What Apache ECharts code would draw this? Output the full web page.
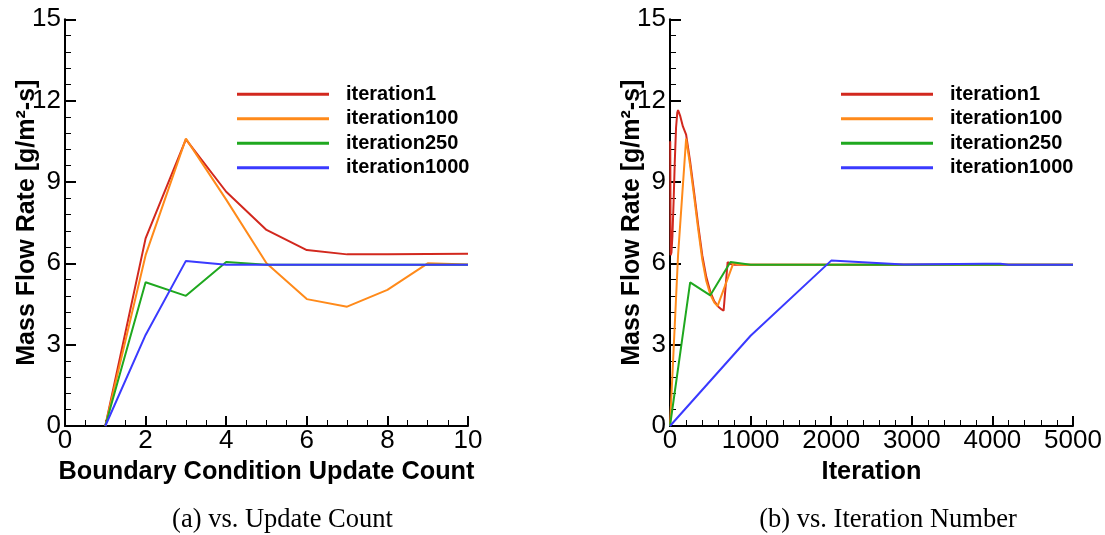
<!DOCTYPE html>
<html>
<head>
<meta charset="utf-8">
<script src="https://cdn.jsdelivr.net/npm/echarts@6/dist/echarts.min.js"></script>
<style>
html,body{margin:0;padding:0;background:#fff;}
#chart{width:1105px;height:535px;}
</style>
</head>
<body>
<div id="chart"></div>
<script>
// ---------- data ----------
const seriesNames = ['iteration1', 'iteration100', 'iteration250', 'iteration1000'];
const seriesColors = ['#d2281e', '#ff8a1a', '#1fa81f', '#3a3aff'];

// (a) vs. Update Count
const updateCount = [1, 2, 3, 4, 5, 6, 7, 8, 9, 10];
const countIter1    = [0, 6.92, 10.57, 8.64, 7.23, 6.49, 6.33, 6.33, 6.34, 6.35];
const countIter100  = [0, 6.3, 10.6, 8.35, 6.0, 4.68, 4.40, 5.02, 6.0, 5.96];
const countIter250  = [0, 5.30, 4.80, 6.05, 5.95, 5.95, 5.95, 5.95, 5.95, 5.95];
const countIter1000 = [0, 3.36, 6.09, 5.95, 5.95, 5.95, 5.95, 5.95, 5.95, 5.95];

// (b) vs. Iteration Number
const iterX1    = [3, 8, 18, 30, 45, 60, 75, 90, 100, 125, 160, 200, 250, 300, 350, 400, 450, 500, 550, 600, 640, 665, 715, 740, 800, 5000];
const iterY1    = [10.5, 6.3, 6.4, 7.0, 8.3, 9.8, 11.0, 11.55, 11.65, 11.45, 11.05, 10.75, 9.75, 8.6, 7.4, 6.3, 5.5, 4.95, 4.6, 4.4, 4.3, 4.25, 6.05, 5.98, 5.95, 5.95];
const iterX100  = [0, 100, 200, 250, 300, 350, 400, 450, 500, 550, 590, 785, 850, 950, 5000];
const iterY100  = [0, 6.3, 10.6, 9.6, 8.45, 7.25, 6.15, 5.35, 4.85, 4.55, 4.42, 6.0, 5.96, 5.95, 5.95];
const iterX250  = [0, 250, 500, 750, 1000, 5000];
const iterY250  = [0, 5.30, 4.82, 6.05, 5.95, 5.95];
const iterX1000 = [0, 1000, 2000, 2900, 3900, 4100, 4200, 5000];
const iterY1000 = [0, 3.33, 6.10, 5.96, 5.98, 5.98, 5.95, 5.95];

const yTicks = { min: 0, max: 15, interval: 3 };
const xTicksA = { min: 0, max: 10, interval: 2 };
const xTicksB = { min: 0, max: 5000, interval: 1000 };

// ---------- chart ----------
const pairs = (xs, ys) => xs.map((x, i) => [x, ys[i]]);
const sans = 'Liberation Sans, Arial, Helvetica, sans-serif';

function yAxis(gridIndex) {
  return {
    type: 'value', gridIndex, min: yTicks.min, max: yTicks.max, interval: yTicks.interval,
    name: 'Mass Flow Rate [g/m²-s]', nameLocation: 'middle', nameGap: 25, nameMoveOverlap: false,
    nameTextStyle: { fontFamily: sans, fontWeight: 'bold', fontSize: 25, color: '#000' },
    axisLine: { show: true, lineStyle: { color: '#000', width: 2 } },
    axisTick: { show: true, inside: true, length: 11, lineStyle: { color: '#000', width: 2 } },
    minorTick: { show: true, splitNumber: 5, length: 6, lineStyle: { color: '#000', width: 1 } },
    splitLine: { show: false },
    axisLabel: { fontFamily: sans, fontSize: 26, color: '#000', margin: 4, formatter: v => String(v) }
  };
}
function xAxis(gridIndex, ticks, name, minorSplit) {
  return {
    type: 'value', gridIndex, min: ticks.min, max: ticks.max, interval: ticks.interval,
    name, nameLocation: 'middle', nameGap: 34, nameMoveOverlap: false,
    nameTextStyle: { fontFamily: sans, fontWeight: 'bold', fontSize: 25.3, color: '#000' },
    axisLine: { show: true, onZero: false, lineStyle: { color: '#000', width: 2 } },
    axisTick: { show: true, inside: true, length: 10, lineStyle: { color: '#000', width: 2 } },
    minorTick: { show: true, splitNumber: minorSplit, length: 6, lineStyle: { color: '#000', width: 1 } },
    splitLine: { show: false },
    axisLabel: { fontFamily: sans, fontSize: 26, color: '#000', margin: 2, formatter: v => String(v) }
  };
}
function line(name, idx, gridIdx, data) {
  return {
    name, type: 'line', xAxisIndex: gridIdx, yAxisIndex: gridIdx, data,
    symbol: 'none', lineStyle: { color: seriesColors[idx], width: 2 },
    itemStyle: { color: seriesColors[idx] }, animation: false
  };
}
function legend(left) {
  return {
    orient: 'vertical', left, top: 84.3, padding: 0, icon: 'rect', itemWidth: 92, itemHeight: 3,
    itemGap: 4.5, selectedMode: false,
    textStyle: { fontFamily: sans, fontWeight: 'bold', fontSize: 20, lineHeight: 20, color: '#000', padding: [0, 0, 0, 12] },
    data: seriesNames
  };
}

const countSets = [countIter1, countIter100, countIter250, countIter1000];
const iterSets = [[iterX1, iterY1], [iterX100, iterY100], [iterX250, iterY250], [iterX1000, iterY1000]];
const captionStyle = { fontFamily: 'Liberation Serif, Times New Roman, serif', fontWeight: 'normal', fontSize: 26.5, color: '#000' };

const chart = echarts.init(document.getElementById('chart'), null, { renderer: 'canvas' });
chart.setOption({
  backgroundColor: '#fff',
  animation: false,
  grid: [
    { left: 65, top: 19.3, width: 403, height: 406.7 },
    { left: 670, top: 19.3, width: 403, height: 406.7 }
  ],
  legend: [legend(237), legend(841)],
  xAxis: [
    xAxis(0, xTicksA, 'Boundary Condition Update Count', 4),
    xAxis(1, xTicksB, 'Iteration', 5)
  ],
  yAxis: [yAxis(0), yAxis(1)],
  title: [
    { text: '(a) vs. Update Count', left: 277.5, top: 502, textAlign: 'center', textStyle: captionStyle },
    { text: '(b) vs. Iteration Number', left: 883, top: 502, textAlign: 'center', textStyle: captionStyle }
  ],
  series: [
    ...countSets.map((ys, i) => line(seriesNames[i], i, 0, pairs(updateCount, ys))),
    ...iterSets.map((s, i) => line(seriesNames[i], i, 1, pairs(s[0], s[1])))
  ]
});
</script>
</body>
</html>
